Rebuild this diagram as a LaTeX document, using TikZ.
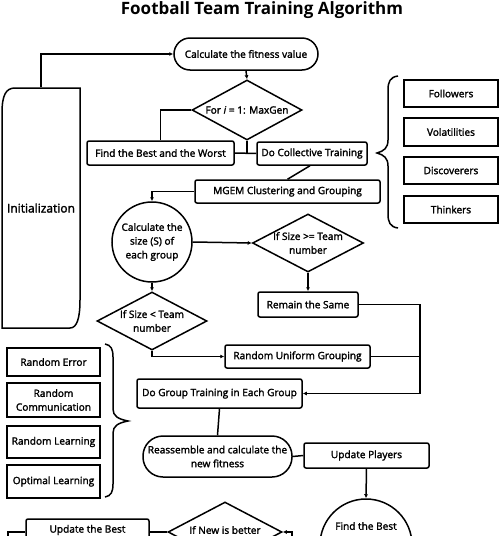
\documentclass[tikz,border=0pt]{standalone}
\usepackage{fontspec}
\setmainfont{Open Sans}
\newfontfamily\semib{Open Sans}[RawFeature={embolden=2}]
\usetikzlibrary{shapes.geometric,arrows.meta}
\begin{document}
\begin{tikzpicture}[x=1pt,y=-1pt,line width=1.5pt,
  txt/.style={font=\semib\fontsize{10.1}{13.8}\selectfont,align=center},
  box/.style={draw,rectangle,rounded corners=2pt,inner sep=0pt,txt},
  stad/.style={draw,rectangle,inner sep=0pt,txt},
  dia/.style={draw,diamond,inner sep=0pt},
  circ/.style={draw,circle,inner sep=0pt,txt},
  side/.style={draw,rectangle,inner sep=0pt,minimum width=94pt,txt},
  arr/.style={-{Latex[length=4pt,width=4pt]}}]
\useasboundingbox (0,0) rectangle (500,536);
\fill[white] (0,0) rectangle (500,536);
\node[font=\fontsize{17}{20}\selectfont\bfseries] (title) at (262,10) {Football Team Training Algorithm};

% initialization
\draw (2,328) -- (2,113) .. controls (2,95) and (6,88) .. (15,88) -- (80,88) -- (80,300) .. controls (80,318) and (77,328) .. (70,328) -- cycle;
\node[inner sep=0pt,minimum width=78pt,minimum height=240pt,font=\semib\fontsize{12}{14}\selectfont] (init) at (41,208) {Initialization};

\node[stad,rounded corners=16pt,minimum width=144pt,minimum height=32pt] (calc) at (246,54) {Calculate the fitness value};
\node[dia,minimum width=110pt,minimum height=60pt,label={[txt]center:For \textit{i} = 1: MaxGen}] (for) at (247,110) {};
\node[box,minimum width=147pt,minimum height=24pt] (fbw) at (160.5,153) {Find the Best and the Worst};
\node[box,minimum width=110pt,minimum height=23pt] (dct) at (312,153.5) {Do Collective Training};
\node[box,minimum width=185pt,minimum height=23pt] (mgem) at (287.5,191.5) {MGEM Clustering and Grouping};
\node[circ,minimum size=80pt] (csz) at (152,242) {Calculate the\\size (S) of\\each group};
\node[dia,minimum width=111pt,minimum height=58pt,label={[txt]center:If Size >= Team\\number}] (ge) at (308,243) {};
\node[box,minimum width=100pt,minimum height=25pt] (rts) at (308,304.5) {Remain the Same};
\node[dia,minimum width=110pt,minimum height=58pt,label={[txt]center:If Size < Team\\number}] (lt) at (152,321) {};
\node[box,minimum width=145pt,minimum height=23pt] (rug) at (297.5,356.5) {Random Uniform Grouping};
\node[box,minimum width=165pt,minimum height=29pt] (dgt) at (219.5,393.5) {Do Group Training in Each Group};
\node[stad,rounded corners=20pt,minimum width=149pt,minimum height=41pt] (rea) at (217.5,456.5) {Reassemble and calculate the\\new fitness};
\node[box,minimum width=125pt,minimum height=25pt] (upd) at (366.5,455.5) {Update Players};
\node[circ,minimum size=92pt] (fbc) at (366,545) {};
\node[txt] (fbct) at (366,526) {Find the Best};
\node[box,minimum width=123pt,minimum height=42pt] (ub) at (87.5,540) {};
\node[txt] (ubt) at (87.5,530) {Update the Best};
\node[dia,minimum width=114pt,minimum height=60pt] (nb) at (225,532) {};
\node[txt] (nbt) at (225,530) {If New is better};

% right side boxes
\node[side,minimum height=27pt] (fol) at (451,93.5) {Followers};
\node[side,minimum height=28pt] (vol) at (451,132) {Volatilities};
\node[side,minimum height=27pt] (dis) at (451,170.5) {Discoverers};
\node[side,minimum height=27pt] (thi) at (451,209.5) {Thinkers};
\draw (398,76) .. controls (390,77) and (388,82) .. (388,90) -- (388,140) .. controls (388,148) and (384,151) .. (377,153) .. controls (384,155) and (388,158) .. (388,166) -- (388,214) .. controls (388,222) and (390,227) .. (398,228);

% left side boxes
\node[side,minimum width=93pt,minimum height=28pt] (rer) at (53.5,362) {Random Error};
\node[side,minimum width=93pt,minimum height=34pt] (rco) at (53.5,400) {Random\\Communication};
\node[side,minimum width=93pt,minimum height=32pt] (rle) at (53.5,442) {Random Learning};
\node[side,minimum width=93pt,minimum height=33pt] (ole) at (53.5,481.5) {Optimal Learning};
\draw (105,344) .. controls (111,345) and (113,349) .. (113,357) -- (113,409) .. controls (113,416) and (118,419) .. (128,421) .. controls (118,423) and (113,426) .. (113,433) -- (113,484) .. controls (113,492) and (111,496) .. (105,497);

% connectors
\draw[arr] (init.north) |- (calc.west);
\draw[arr] (calc.south) -- (for.north);
\draw (for.west) -| (fbw.north);
\draw (fbw.east) -- (dct.west);
\draw (for.south) -- (for.south |- fbw.east);
\draw ([xshift=-2pt]dct.south) -- (mgem.north);
\draw[arr] (mgem.west) -| (csz.north);
\draw[arr] (csz.east) -- (ge.west);
\draw[arr] (ge.south) -- (rts.north);
\draw[arr] (csz.south) -- (lt.north);
\draw[arr] (lt.south) |- (rug.west);
\coordinate (rj) at (420,393.5);
\draw[arr] (rts.east) -| (rj) -- (dgt.east);
\draw (rug.east) -- (rug.east -| rj);
\draw (dgt.south) -- (rea.north);
\draw (rea.east) -- (upd.west);
\draw[arr] (upd.south) -- (fbc.north);
\draw (nb.west) -- (nb.west -| ub.east);
\coordinate (nbr) at (292,560);
\draw[arr] (nbr) |- (nb.east);
\coordinate (ubl) at (8,560);
\draw (ub.west |- nb.west) -| (ubl);
\end{tikzpicture}
\end{document}
